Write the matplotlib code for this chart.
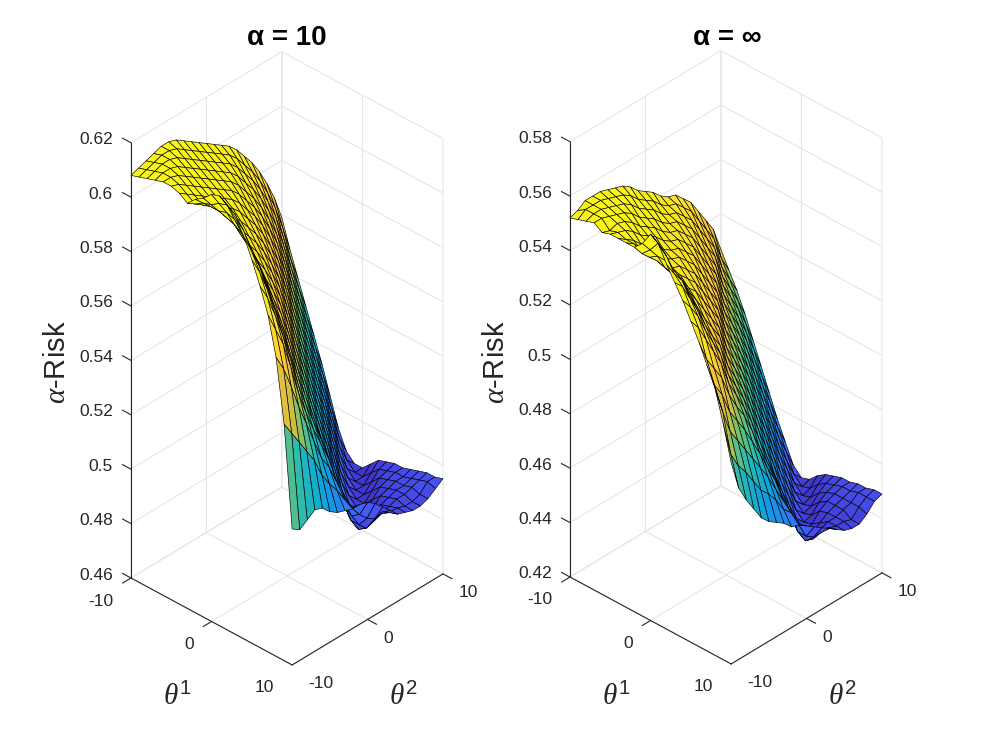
#!/usr/bin/env python3
"""
alpha-risk surfaces over (theta1, theta2) for alpha = 10 and alpha = inf
"""

import numpy as np
import matplotlib
matplotlib.use("Agg")
import matplotlib.pyplot as plt
from matplotlib.colors import LinearSegmentedColormap, Normalize
from mpl_toolkits.mplot3d import proj3d

plt.rcParams['font.family'] = ['Liberation Sans', 'DejaVu Sans']
plt.rcParams['axes.unicode_minus'] = False
plt.rcParams['mathtext.fontset'] = 'custom'
plt.rcParams['mathtext.rm'] = 'Liberation Sans'
plt.rcParams['mathtext.it'] = 'Liberation Serif:italic'

# ============================================================================
# Data, rows = theta1, columns = theta2
# values in units of 1e-3
# ============================================================================
theta1 = np.arange(-10, 11)
theta2 = np.arange(-10, 11)

risk_a10 = np.array([
    [608, 609, 610, 611, 612, 612, 611, 609, 607, 605, 603, 601, 599, 597, 594, 590, 586, 581, 575, 568, 559],
    [609, 610, 611, 612, 612, 611, 609, 607, 605, 603, 601, 599, 597, 594, 590, 586, 581, 575, 568, 559, 549],
    [610, 611, 612, 612, 611, 609, 607, 605, 603, 601, 599, 597, 594, 590, 586, 581, 575, 568, 559, 549, 540],
    [611, 612, 612, 611, 609, 607, 605, 603, 601, 599, 597, 594, 590, 586, 581, 575, 568, 559, 549, 540, 531],
    [612, 612, 611, 609, 607, 605, 603, 601, 599, 597, 594, 590, 586, 581, 575, 568, 559, 549, 540, 531, 522],
    [612, 611, 609, 607, 605, 603, 601, 599, 597, 594, 590, 586, 581, 575, 568, 559, 549, 540, 531, 522, 513],
    [611, 609, 607, 605, 603, 601, 599, 597, 594, 590, 586, 581, 575, 568, 559, 549, 540, 531, 522, 513, 503],
    [609, 607, 605, 603, 601, 599, 597, 594, 590, 586, 581, 575, 568, 559, 549, 540, 531, 522, 513, 503, 493],
    [612, 609, 606, 603, 599, 597, 594, 590, 586, 581, 575, 568, 559, 549, 540, 531, 522, 513, 503, 493, 486],
    [614, 610, 606, 602, 598, 594, 590, 586, 581, 575, 568, 559, 549, 540, 531, 522, 513, 503, 493, 486, 483],
    [617, 612, 607, 601, 595, 590, 586, 581, 575, 568, 559, 549, 540, 531, 522, 513, 503, 493, 486, 483, 483],
    [618, 613, 606, 599, 592, 586, 581, 575, 568, 559, 549, 540, 531, 522, 513, 503, 493, 486, 483, 483, 486],
    [616, 611, 603, 595, 588, 581, 575, 568, 559, 549, 540, 531, 522, 513, 503, 493, 486, 483, 483, 486, 489],
    [613, 607, 599, 591, 583, 575, 568, 559, 549, 540, 531, 522, 513, 503, 493, 486, 483, 483, 486, 489, 490],
    [608, 601, 594, 585, 576, 568, 559, 549, 540, 531, 522, 513, 503, 493, 486, 483, 483, 486, 489, 490, 491],
    [601, 595, 587, 578, 569, 559, 549, 540, 531, 522, 513, 503, 493, 486, 483, 483, 486, 489, 490, 491, 491],
    [593, 587, 579, 570, 560, 549, 540, 532, 524, 515, 505, 495, 487, 483, 483, 486, 489, 490, 491, 491, 492],
    [584, 577, 570, 560, 549, 540, 532, 525, 518, 508, 498, 490, 485, 484, 486, 489, 490, 491, 491, 492, 493],
    [570, 564, 556, 547, 539, 531, 523, 518, 511, 502, 495, 490, 487, 488, 489, 490, 491, 491, 492, 493, 494],
    [547, 542, 537, 532, 527, 520, 515, 511, 506, 501, 497, 494, 492, 493, 491, 491, 490, 490, 491, 494, 494],
    [510, 508, 510, 512, 511, 508, 506, 505, 504, 504, 503, 501, 498, 495, 492, 491, 490, 490, 491, 493, 495],
]) / 1000.0

risk_inf = np.array([
    [552, 553, 555, 555, 555, 554, 553, 552, 550, 547, 545, 543, 540, 538, 537, 534, 531, 526, 521, 516, 507],
    [553, 555, 555, 555, 554, 553, 552, 550, 547, 545, 543, 540, 538, 537, 534, 531, 526, 521, 516, 507, 501],
    [554, 555, 555, 554, 553, 552, 550, 547, 545, 543, 540, 538, 537, 534, 531, 526, 521, 516, 507, 501, 495],
    [555, 555, 554, 553, 552, 550, 547, 545, 543, 540, 538, 537, 534, 531, 526, 521, 516, 507, 501, 495, 488],
    [553, 552, 553, 552, 550, 547, 545, 543, 540, 538, 537, 534, 531, 526, 521, 516, 507, 501, 495, 488, 480],
    [554, 553, 552, 550, 547, 545, 543, 540, 538, 537, 534, 531, 526, 521, 516, 507, 501, 495, 488, 480, 472],
    [554, 552, 550, 547, 545, 543, 540, 538, 537, 534, 531, 526, 521, 516, 507, 501, 495, 488, 480, 472, 464],
    [554, 552, 548, 545, 543, 540, 538, 537, 534, 531, 526, 521, 516, 507, 501, 495, 488, 480, 472, 464, 456],
    [554, 550, 547, 544, 540, 538, 537, 534, 531, 526, 521, 516, 507, 501, 495, 488, 480, 472, 464, 456, 449],
    [557, 553, 549, 543, 539, 537, 534, 531, 526, 521, 516, 507, 501, 495, 488, 480, 472, 464, 456, 449, 442],
    [562, 557, 549, 543, 539, 534, 531, 526, 521, 516, 507, 501, 495, 488, 480, 472, 464, 456, 449, 442, 439],
    [560, 554, 547, 542, 536, 531, 526, 521, 516, 507, 501, 495, 488, 480, 472, 464, 456, 449, 442, 439, 440],
    [554, 549, 545, 538, 532, 526, 521, 516, 507, 501, 495, 488, 480, 472, 464, 456, 449, 442, 439, 440, 443],
    [549, 546, 540, 534, 527, 521, 516, 507, 501, 495, 488, 480, 472, 464, 456, 449, 442, 439, 440, 443, 445],
    [544, 540, 535, 528, 522, 516, 507, 501, 495, 488, 480, 472, 464, 456, 449, 442, 439, 440, 443, 445, 446],
    [538, 534, 528, 522, 516, 507, 501, 495, 488, 480, 472, 464, 456, 449, 442, 439, 440, 443, 445, 446, 447],
    [532, 524, 519, 514, 506, 500, 495, 488, 480, 473, 466, 457, 450, 442, 439, 440, 443, 445, 446, 447, 447],
    [525, 516, 511, 503, 498, 493, 487, 481, 474, 468, 460, 452, 444, 440, 440, 442, 444, 445, 446, 447, 448],
    [518, 508, 499, 494, 489, 484, 479, 474, 468, 462, 456, 447, 442, 441, 443, 444, 444, 445, 446, 448, 448],
    [507, 494, 488, 484, 479, 474, 471, 467, 462, 459, 453, 447, 445, 445, 445, 444, 444, 443, 446, 448, 449],
    [494, 483, 477, 472, 467, 464, 462, 460, 457, 456, 454, 452, 450, 448, 446, 444, 443, 443, 445, 448, 449],
]) / 1000.0

theta_ticks = [-10, 0, 10]
zticks_a10 = [0.46, 0.48, 0.50, 0.52, 0.54, 0.56, 0.58, 0.60, 0.62]
zticks_inf = [0.42, 0.44, 0.46, 0.48, 0.50, 0.52, 0.54, 0.56, 0.58]

# MATLAB parula look-alike (tuned to the picture's tones)
parula = LinearSegmentedColormap.from_list('parula', [
    (0.00, (0.25, 0.21, 0.80)),
    (0.08, (0.28, 0.32, 0.96)),
    (0.20, (0.16, 0.49, 0.98)),
    (0.32, (0.05, 0.64, 0.87)),
    (0.42, (0.13, 0.73, 0.72)),
    (0.52, (0.45, 0.76, 0.43)),
    (0.60, (0.80, 0.75, 0.26)),
    (0.68, (0.97, 0.75, 0.23)),
    (0.76, (0.99, 0.85, 0.17)),
    (0.86, (0.97, 0.93, 0.12)),
    (1.00, (0.98, 0.98, 0.08)),
])

AXC = '#262626'
W, H = 995, 746
fig = plt.figure(figsize=(W / 100, H / 100), dpi=100)
fig.patch.set_facecolor('white')


def draw_panel(ax, Z, zticks):
    zlo, zhi = zticks[0], zticks[-1]
    X, Y = np.meshgrid(theta1, theta2, indexing='ij')
    # each facet takes the colour of its first corner, like MATLAB's surf
    fcol = parula(Normalize(Z.min(), Z.max())(Z))
    ax.plot_surface(X, Y, Z, facecolors=fcol, shade=False,
                    rstride=1, cstride=1, edgecolor='k', linewidth=0.45,
                    antialiased=True)
    # MATLAB style axis line + outward ticks at the left corner
    ax.plot([-10, -10], [-10, -10], [zlo, zhi], color=AXC, lw=0.8)
    for z in zticks:
        ax.plot([-10, -11.05], [-10, -10], [z, z], color=AXC, lw=0.8)
    for t in theta_ticks:
        ax.plot([t, t], [-10, -11.1], [zlo, zlo], color=AXC, lw=0.8)
        ax.plot([10, 11.1], [t, t], [zlo, zlo], color=AXC, lw=0.8)

    ax.set_facecolor('none')
    ax.set_proj_type('ortho')
    ax.view_init(elev=34.8, azim=-46.6)
    ax.set_box_aspect((1, 0.99, 2.39))
    ax.set_xlim(-10, 10)
    ax.set_ylim(-10, 10)
    ax.set_zlim(zlo, zhi)
    ax.set_xticks(theta_ticks)
    ax.set_yticks(theta_ticks)
    ax.set_zticks(zticks)
    ax.set_xticklabels([])
    ax.set_yticklabels([])
    ax.set_zticklabels([])
    for axis in (ax.xaxis, ax.yaxis, ax.zaxis):
        axis.set_pane_color((1, 1, 1, 0))
        axis.pane.set_edgecolor('#e2e2e2')
        axis._axinfo['grid'].update(color='#e6e6e6', linewidth=0.8)
        axis._axinfo['tick'].update(inward_factor=0.0, outward_factor=0.0)
        axis.line.set_color(AXC)
        axis.line.set_linewidth(0.8)
    ax.zaxis.line.set_color('none')


def place(ax, corner_a, span):
    # shift / scale the 3d axes so the floor corner (-10,-10) sits at corner_a
    fig.canvas.draw()
    zlo = ax.get_zlim()[0]
    M = ax.get_proj()
    pts = []
    for x, y in [(-10, -10), (10, 10)]:
        px_, py_, _ = proj3d.proj_transform(x, y, zlo, M)
        pts.append(ax.transData.transform((px_, py_)))
    (xa, ya), (xc, yc) = pts
    bb = ax.get_window_extent()
    f = span / (xc - xa)
    cx, cy = (bb.x0 + bb.x1) / 2, (bb.y0 + bb.y1) / 2
    nw, nh = bb.width * f, bb.height * f
    ncx = corner_a[0] - f * (xa - cx)
    ncy = corner_a[1] - f * (ya - cy)
    ax.set_position([(ncx - nw / 2) / W, (ncy - nh / 2) / H, nw / W, nh / H])


def to_px(ax, x, y, z):
    px_, py_, _ = proj3d.proj_transform(x, y, z, ax.get_proj())
    return ax.transData.transform((px_, py_))


def tick_labels(ax, zticks):
    zlo = zticks[0]
    kw = dict(fontsize=12.5, color=AXC, va='center')
    for z in zticks:
        X, Y = to_px(ax, -10, -10, z)
        fig.text((X - 18) / W, (Y + 3) / H, f'{z:g}', ha='right', **kw)
    for t in theta_ticks:
        X, Y = to_px(ax, t, -10, zlo)
        fig.text((X - 18) / W, (Y - 23) / H, f'{t:g}', ha='right', **kw)
        X, Y = to_px(ax, 10, t, zlo)
        fig.text((X + 16) / W, (Y - 19) / H, f'{t:g}', ha='left', **kw)


ax1 = fig.add_axes([0.05, 0.1, 0.45, 0.45 * W / H], projection='3d')
draw_panel(ax1, risk_a10, zticks_a10)
ax2 = fig.add_axes([0.5, 0.1, 0.45, 0.45 * W / H], projection='3d')
draw_panel(ax2, risk_inf, zticks_inf)

for _ in range(2):
    place(ax1, (131, H - 578), 312)
    place(ax2, (570, H - 577), 312)
fig.canvas.draw()
tick_labels(ax1, zticks_a10)
tick_labels(ax2, zticks_inf)


def px(x, y):
    return x / W, 1 - y / H


# titles and axis labels
fig.text(*px(287, 38), 'α = 10', ha='center', va='center',
         fontsize=20, fontweight='bold', color='black')
fig.text(*px(727, 38), 'α = ∞', ha='center', va='center',
         fontsize=20, fontweight='bold', color='black')
for x0 in (0, 439):
    fig.text(*px(57 + x0, 362), r'$\alpha$-Risk', ha='center', va='center',
             rotation=90, fontsize=21, color=AXC)
    fig.text(*px(177 + x0, 697), r'$\theta^1$', ha='center', va='center',
             fontsize=21, color=AXC)
    fig.text(*px(403 + x0, 697), r'$\theta^2$', ha='center', va='center',
             fontsize=21, color=AXC)

plt.savefig('out.png', dpi=100)
print("Saved: out.png")
